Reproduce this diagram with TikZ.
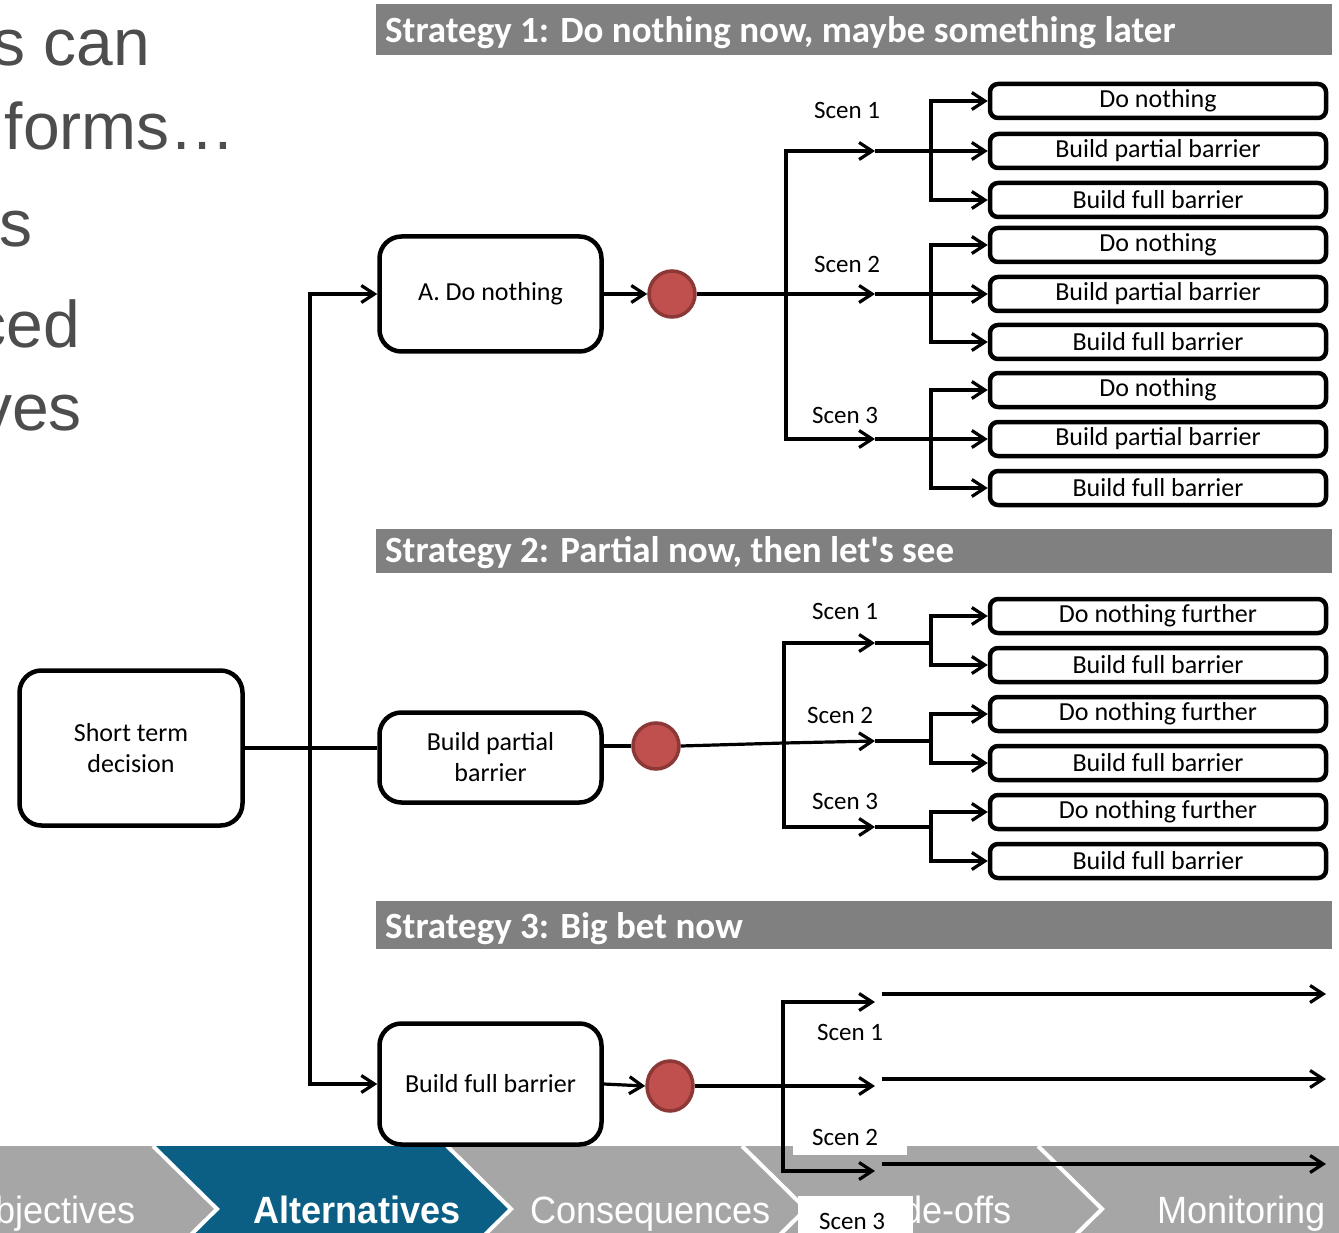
\documentclass[tikz,border=0pt]{standalone}
\usepackage{fontspec}
\setmainfont{Carlito}
\newfontfamily\titlefont{Liberation Sans}
\newfontfamily\stepfont[FakeStretch=0.95]{Liberation Sans}
\usetikzlibrary{arrows.meta,shapes.geometric}
\definecolor{barGray}{HTML}{808080}
\definecolor{stripGray}{HTML}{A6A6A6}
\definecolor{stepBlue}{HTML}{0B5F84}
\definecolor{dotRed}{HTML}{C0504D}
\definecolor{dotEdge}{HTML}{8C3836}
\definecolor{titleGray}{HTML}{4D4D4D}
\begin{document}
\begin{tikzpicture}[x=1pt,y=-1pt,
  conn/.style={line width=3.2pt},
  arr/.style={conn,-{Straight Barb[length=13pt,width=17pt]}},
  bigbox/.style={draw,line width=4.5pt,rounded corners=22pt,fill=white,align=center,
    inner sep=0pt,font=\fontsize{26}{31}\selectfont},
  leaf/.style={draw,line width=4.5pt,rounded corners=8pt,fill=white,minimum width=336pt,
    minimum height=34pt,inner sep=0pt,font=\fontsize{26}{31}\selectfont},
  dot/.style={circle,draw=dotEdge,line width=3.5pt,fill=dotRed,minimum size=46pt,inner sep=0pt},
  scen/.style={anchor=base,font=\fontsize{25}{30}\selectfont,inner sep=0pt},
  heading/.style={anchor=base west,text=white,inner sep=0pt,font=\fontsize{37}{40}\selectfont\bfseries},
  bigtitle/.style={anchor=base east,text=titleGray,inner sep=0pt,font=\titlefont\fontsize{66}{70}\selectfont},
  steplabel/.style={text=white,inner sep=0pt,font=\stepfont\fontsize{38}{40}\selectfont}
]
\clip (0,0) rectangle (1339,1233);

% slide title fragments on the left
\node[bigtitle] (t1) at (150,66) {s can};
\node[bigtitle] (t2) at (236,150) {forms…};
\node[bigtitle] (t3) at (33,247) {s};
\node[bigtitle] (t4) at (80,348) {ced};
\node[bigtitle] (t5) at (82,430) {ves};

% strategy heading bars
\fill[barGray] (376,4) rectangle (1332,55);
\node[heading] (h1) at (385,43) {Strategy 1: Do nothing now, maybe something later};
\fill[barGray] (376,529) rectangle (1332,573);
\node[heading] (h2) at (385,562) {Strategy 2: Partial now, then let\textquotesingle s see};
\fill[barGray] (376,901) rectangle (1332,949);
\node[heading] (h3) at (385,938) {Strategy 3: Big bet now};

% process strip at the bottom
\fill[stripGray] (0,1146) rectangle (1339,1280);
\fill[stepBlue] (153,1146) -- (447,1146) -- (511,1209) -- (447,1272) -- (153,1272) -- (217,1209) -- cycle;
\foreach \t in {153,447,742,1038}
  \draw[white,line width=4pt] (\t,1146) -- (\t+64,1209) -- (\t,1272);
\node[steplabel,anchor=base east] (p1) at (136,1223) {bjectives};
\node[steplabel,anchor=base,font=\stepfont\fontsize{38}{40}\selectfont\bfseries] (p2) at (357,1223) {Alternatives};
\node[steplabel,anchor=base west] (p3) at (530,1223) {Consequences};
\node[steplabel,anchor=base east] (p4) at (1012,1223) {Trade-offs};
\node[steplabel,anchor=base east] (p5) at (1326,1223) {Monitoring};

% white patches behind the lower scenario labels
\fill[white] (793,1122) rectangle (907,1155);
\fill[white] (798,1196) rectangle (913,1240);

% first-stage decision
\node[bigbox,minimum width=223pt,minimum height=155pt] (st) at (131,748) {Short term\\decision};
\node[bigbox,minimum width=222pt,minimum height=115pt] (an) at (490.5,294) {A. Do nothing};
\node[bigbox,minimum width=222pt,minimum height=90pt] (pb) at (490.5,757.5) {Build partial\\barrier};
\node[bigbox,minimum width=222pt,minimum height=121pt] (fb) at (490.5,1084) {Build full barrier};

\coordinate (trunk) at (310,747);
\draw[conn] (st.east) -- (st.east -| pb.west);
\draw[arr] (trunk) |- (an.west);
\draw[arr] (trunk) |- (fb.west);

% chance nodes
\node[dot] (ca) at (672,294) {};
\node[dot] (cb) at (656,746) {};
\node[dot,ellipse,minimum width=46pt,minimum height=50pt] (cc) at (670,1086) {};
\draw[arr] (an.east) -- (ca.west);
\draw[conn] (cb.west -| pb.east) -- (cb.west);
\draw[arr] (fb.east) -- (cc.west);

% ---------- Strategy 1 ----------
\foreach \n/\y/\txt in {1/101/Do nothing,2/151/Build partial barrier,3/200/Build full barrier,
  4/245/Do nothing,5/294/Build partial barrier,6/342/Build full barrier,
  7/390/Do nothing,8/439/Build partial barrier,9/488/Build full barrier}
  \node[leaf] (a\n) at (1158,\y) {\txt};

\coordinate (v1) at (786,294);
\coordinate (s1a) at (875,151);
\coordinate (s1b) at (875,294);
\coordinate (s1c) at (875,439);
\draw[arr] (ca.east) -- (s1b);
\draw[arr] (v1) |- (s1a);
\draw[arr] (v1) |- (s1c);
\node[scen] (sa1) at (847,119) {Scen 1};
\node[scen] (sa2) at (847,273) {Scen 2};
\node[scen] (sa3) at (845,423) {Scen 3};

\coordinate (g1) at (931,151);
\coordinate (g2) at (931,294);
\coordinate (g3) at (931,439);
\draw[arr] (s1a) -- (a2.west);
\draw[arr] (g1) |- (a1.west);
\draw[arr] (g1) |- (a3.west);
\draw[arr] (s1b) -- (a5.west);
\draw[arr] (g2) |- (a4.west);
\draw[arr] (g2) |- (a6.west);
\draw[arr] (s1c) -- (a8.west);
\draw[arr] (g3) |- (a7.west);
\draw[arr] (g3) |- (a9.west);

% ---------- Strategy 2 ----------
\foreach \n/\y/\txt in {1/616/Do nothing further,2/665/Build full barrier,
  3/714/Do nothing further,4/763/Build full barrier,
  5/812/Do nothing further,6/861/Build full barrier}
  \node[leaf] (b\n) at (1158,\y) {\txt};

\coordinate (v2) at (784,743);
\coordinate (s2a) at (875,643);
\coordinate (s2b) at (875,741);
\coordinate (s2c) at (875,827);
\draw[conn] (cb.east) -- (v2);
\draw[arr] (v2) -- (s2b);
\draw[arr] (v2) |- (s2a);
\draw[arr] (v2) |- (s2c);
\node[scen] (sb1) at (845,619) {Scen 1};
\node[scen] (sb2) at (840,723) {Scen 2};
\node[scen] (sb3) at (845,809) {Scen 3};

\coordinate (k1) at (931,643);
\coordinate (k2) at (931,741);
\coordinate (k3) at (931,827);
\draw[conn] (s2a) -- (k1);
\draw[conn] (s2b) -- (k2);
\draw[conn] (s2c) -- (k3);
\draw[arr] (k1) |- (b1.west);
\draw[arr] (k1) |- (b2.west);
\draw[arr] (k2) |- (b3.west);
\draw[arr] (k2) |- (b4.west);
\draw[arr] (k3) |- (b5.west);
\draw[arr] (k3) |- (b6.west);

% ---------- Strategy 3 ----------
\coordinate (v3) at (783,1086);
\coordinate (s3a) at (875,1002);
\coordinate (s3b) at (875,1086);
\coordinate (s3c) at (875,1171);
\draw[arr] (cc.east) -- (s3b);
\draw[arr] (v3) |- (s3a);
\draw[arr] (v3) |- (s3c);
\node[scen] (sc1) at (850,1040) {Scen 1};
\node[scen] (sc2) at (845,1145) {Scen 2};
\node[scen] (sc3) at (852,1229) {Scen 3};

\coordinate (l1s) at (882,994);  \coordinate (l1e) at (1326,994);
\coordinate (l2s) at (882,1079); \coordinate (l2e) at (1326,1079);
\coordinate (l3s) at (882,1164); \coordinate (l3e) at (1326,1164);
\draw[arr] (l1s) -- (l1e);
\draw[arr] (l2s) -- (l2e);
\draw[arr] (l3s) -- (l3e);
\end{tikzpicture}
\end{document}
